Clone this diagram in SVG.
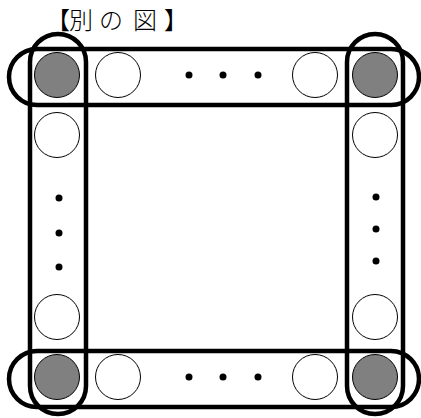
<svg xmlns="http://www.w3.org/2000/svg" width="421" height="418" viewBox="0 0 421 418">
<style>
.band{fill:none;stroke:#000;stroke-width:4.5}
.w{fill:#fff;stroke:#000;stroke-width:1}
.g{fill:#808080;stroke:#000;stroke-width:1}
.d{fill:#000}
.t{font-family:"Noto Sans CJK JP","Noto Sans CJK SC",sans-serif;font-size:24px;font-weight:300;fill:#000;text-anchor:middle}
</style>
<rect width="421" height="418" fill="#fff"/>
<g id="title">
<text class="t" x="58" y="29">【</text>
<text class="t" x="81" y="29">別</text>
<text class="t" x="111" y="29">の</text>
<text class="t" x="145" y="29">図</text>
<text class="t" x="176" y="29">】</text>
</g>
<g id="circles">
<circle class="g" cx="57" cy="75" r="22.5"/>
<circle class="w" cx="118" cy="75" r="22.5"/>
<circle class="w" cx="315" cy="75" r="22.5"/>
<circle class="g" cx="375" cy="75" r="22.5"/>
<circle class="w" cx="57" cy="135" r="22.5"/>
<circle class="w" cx="375" cy="135" r="22.5"/>
<circle class="w" cx="57" cy="317" r="22.5"/>
<circle class="w" cx="375" cy="317" r="22.5"/>
<circle class="g" cx="57" cy="377" r="22.5"/>
<circle class="w" cx="118" cy="377" r="22.5"/>
<circle class="w" cx="315" cy="377" r="22.5"/>
<circle class="g" cx="375" cy="377" r="22.5"/>
</g>
<g id="dots">
<circle class="d" cx="189" cy="75" r="3.5"/>
<circle class="d" cx="223" cy="75" r="3.5"/>
<circle class="d" cx="258" cy="75" r="3.5"/>
<circle class="d" cx="189" cy="377" r="3.5"/>
<circle class="d" cx="223" cy="377" r="3.5"/>
<circle class="d" cx="258" cy="377" r="3.5"/>
<circle class="d" cx="59" cy="198" r="3.5"/>
<circle class="d" cx="59" cy="233" r="3.5"/>
<circle class="d" cx="59" cy="267" r="3.5"/>
<circle class="d" cx="376" cy="197" r="3.5"/>
<circle class="d" cx="376" cy="229" r="3.5"/>
<circle class="d" cx="376" cy="261" r="3.5"/>
</g>
<g id="band-top"><rect class="band" x="9" y="49" width="410" height="56" rx="28"/></g>
<g id="band-bottom"><rect class="band" x="9" y="351" width="410" height="56" rx="28"/></g>
<g id="band-left"><rect class="band" x="30" y="34" width="56" height="380" rx="28"/></g>
<g id="band-right"><rect class="band" x="347" y="34" width="56" height="380" rx="28"/></g>
<g id="connectors"></g>
</svg>
